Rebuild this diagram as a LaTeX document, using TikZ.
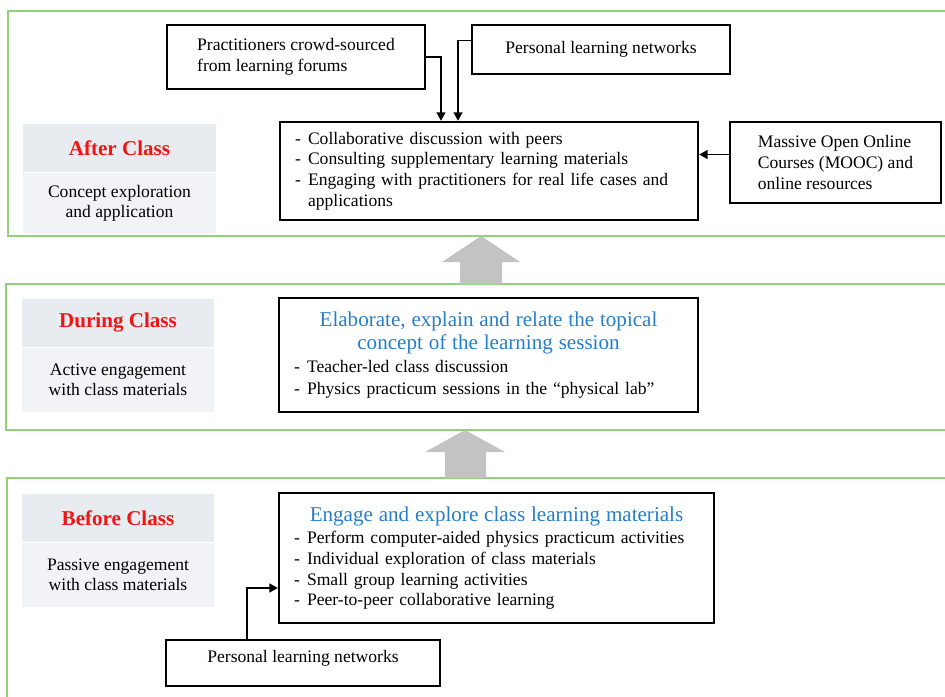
\documentclass[tikz,border=0pt]{standalone}
\usepackage{fontspec}
\setmainfont{Liberation Serif}
\usetikzlibrary{arrows.meta,calc,positioning}

\definecolor{panelgreen}{RGB}{146,208,122}
\definecolor{headgray}{RGB}{232,235,240}
\definecolor{bodygray}{RGB}{242,243,246}
\definecolor{titleblue}{RGB}{38,125,200}
\definecolor{titlered}{RGB}{240,20,20}
\definecolor{blockgray}{RGB}{195,195,195}

\newcommand{\bodyfont}{\fontsize{10}{11.8}\selectfont}
\newcommand{\bluefont}{\fontsize{12}{14}\selectfont\color{titleblue}}
\newcommand{\centreline}[1]{\makebox[\linewidth]{#1}}
\newcommand{\itm}{\makebox[7.4pt][l]{-}}

\tikzset{
	panel/.style={draw=panelgreen, line width=0.85pt},
	mainbox/.style={draw, line width=1.4pt, align=left, inner xsep=0.3cm, font=\bodyfont},
	srcbox/.style={draw, line width=1.1pt, align=left, font=\bodyfont},
	labhead/.style={fill=headgray, minimum width=3.86cm, minimum height=0.96cm, text=titlered, font=\fontsize{12}{14}\selectfont\bfseries},
	labbody/.style={fill=bodygray, minimum width=3.86cm, align=center, font=\bodyfont},
	conn/.style={line width=0.85pt, -{Triangle[length=0.17cm,width=0.18cm]}},
	block/.style={fill=blockgray},
}

\begin{document}
\begin{tikzpicture}[x=0.02cm, y=-0.02cm]
			%%%%% START %%%%%
			\useasboundingbox (0,0) rectangle (945,696);
			\clip (0,0) rectangle (945,696);
			
			% the three phases
			\draw[panel] (8,11) rectangle (960,236);
			\draw[panel] (6,284) rectangle (960,430);
			\draw[panel] (7,478) rectangle (960,720);
			
			\fill[block] (460,284) -- (460,262) -- (442,262) -- (481,236) -- (520,262) -- (502,262) -- (502,284) -- cycle;
			\fill[block] (445,478) -- (445,452) -- (425,452) -- (465,430) -- (505,452) -- (486,452) -- (486,478) -- cycle;
			
			% after class
			\node[labhead] (afterhead) at (119.5,148) {After Class};
			\node[labbody, minimum height=1.22cm, below=0pt of afterhead] (afterbody) {Concept exploration\\and application};
			
			\node[mainbox, text width=7.76cm, minimum height=1.96cm] (after) at (489,171)
				{\itm Collaborative discussion with peers\\
				 \itm Consulting supplementary learning materials\\
				 \itm Engaging with practitioners for real life cases and\\
				 \hspace*{7.4pt}applications};
			
			\node[srcbox, minimum width=5.16cm, minimum height=1.28cm] (prac) at (296,57)
				{Practitioners crowd-sourced\\from learning forums};
			\node[srcbox, minimum width=5.16cm, minimum height=0.98cm] (pltop) at (601,49.5)
				{Personal learning networks};
			\node[srcbox, minimum width=4.22cm, minimum height=1.62cm] (mooc) at (835.5,162.5)
				{Massive Open Online\\Courses (MOOC) and\\online resources};
			
			\draw[conn] (prac.east) -| ($(after.north)+(-48,0)$);
			\draw[conn] ($(pltop.west)+(0,-9)$) -| ($(after.north)+(-31,0)$);
			\draw[conn] ($(mooc.west)+(0,-8)$) -- ($(mooc.west -| after.east)+(0,-8)$);
			
			% during class
			\node[labhead] (duringhead) at (118,323) {During Class};
			\node[labbody, minimum height=1.28cm, below=0pt of duringhead] (duringbody) {Active engagement\\with class materials};
			
			\node[mainbox, text width=7.78cm, minimum height=2.28cm] (during) at (488.5,355)
				{\centreline{\bluefont Elaborate, explain and relate the topical}\\[1.5pt]
				 \centreline{\bluefont concept of the learning session}\\[1pt]
				 \itm Teacher-led class discussion\\[1pt]
				 \itm Physics practicum sessions in the ``physical lab''};
			
			% before class
			\node[labhead] (beforehead) at (118,518) {Before Class};
			\node[labbody, minimum height=1.28cm, below=0pt of beforehead] (beforebody) {Passive engagement\\with class materials};
			
			\node[mainbox, text width=8.1cm, minimum height=2.6cm] (before) at (496.5,558)
				{\centreline{\bluefont Engage and explore class learning materials}\\[1pt]
				 \itm Perform computer-aided physics practicum activities\\
				 \itm Individual exploration of class materials\\
				 \itm Small group learning activities\\
				 \itm Peer-to-peer collaborative learning};
			
			\node[srcbox, minimum width=5.48cm, minimum height=0.92cm, text depth=8pt] (plbot) at (303,663)
				{Personal learning networks};
			
			\draw[conn] ($(plbot.north)+(-56,0)$) |- ($(before.west)+(0,30)$);
			
			%%%%% END %%%%%
\end{tikzpicture}
\end{document}
